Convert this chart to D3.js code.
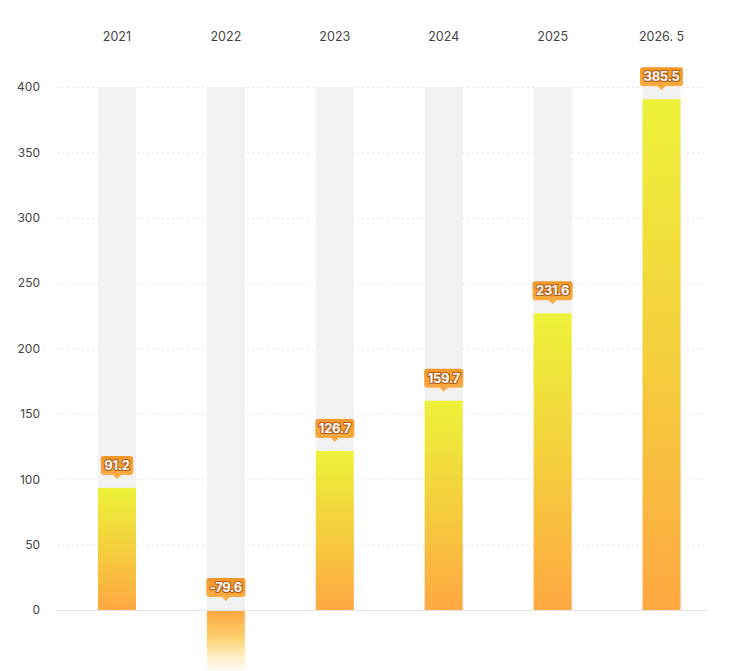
<!DOCTYPE html>
<html>
<head>
<meta charset="utf-8">
<script src="https://cdn.jsdelivr.net/npm/d3@7/dist/d3.min.js"></script>
<style>
  html, body { margin: 0; padding: 0; background: #fff; }
  svg { display: block; font-family: Inter, "Noto Sans", sans-serif; }
</style>
</head>
<body>
<svg id="chart"></svg>
<script>
// categories shown along the top
const years = ['2021', '2022', '2023', '2024', '2025', '2026. 5'];
// bar heights as drawn
const barValues = [93.4, -79.6, 121.6, 160.1, 226.9, 390.6];
// text in the orange tags
const tagLabels = ['91.2', '-79.6', '126.7', '159.7', '231.6', '385.5'];
// y ticks
const yTicks = [0, 50, 100, 150, 200, 250, 300, 350, 400];

const width = 739;
const height = 671;

const svg = d3.select('#chart')
  .attr('width', width)
  .attr('height', height);

const defs = svg.append('defs');

const posGrad = defs.append('linearGradient')
  .attr('id', 'pos-grad')
  .attr('x1', 0).attr('y1', 0).attr('x2', 0).attr('y2', 1);
posGrad.append('stop').attr('offset', '0%').attr('stop-color', '#eef23a');
posGrad.append('stop').attr('offset', '50%').attr('stop-color', '#f4cf3d');
posGrad.append('stop').attr('offset', '100%').attr('stop-color', '#ffa842');

const negGrad = defs.append('linearGradient')
  .attr('id', 'neg-grad')
  .attr('x1', 0).attr('y1', 0).attr('x2', 0).attr('y2', 1);
negGrad.append('stop').attr('offset', '0%').attr('stop-color', '#ffa940');
negGrad.append('stop').attr('offset', '25%').attr('stop-color', '#fdcf6c');
negGrad.append('stop').attr('offset', '45%').attr('stop-color', '#fff0c8');
negGrad.append('stop').attr('offset', '60%').attr('stop-color', '#ffffff');

const tagGrad = defs.append('linearGradient')
  .attr('id', 'tag-grad')
  .attr('x1', 0).attr('y1', 0).attr('x2', 0).attr('y2', 1);
tagGrad.append('stop').attr('offset', '0%').attr('stop-color', '#f29628');
tagGrad.append('stop').attr('offset', '100%').attr('stop-color', '#fbb049');

const gridLeft = 57;
const gridRight = 707;

const xScale = d3.scaleBand()
  .domain(years)
  .range([62.5, 716]);

const barW = 38;
const xCenter = d => xScale(d) + xScale.bandwidth() / 2;

const yScale = d3.scaleLinear()
  .domain([0, 400])
  .range([610, 87]);

// grid lines
const gridG = svg.append('g').classed('grid', true);
gridG.selectAll('line')
  .data(yTicks)
  .join('line')
    .attr('x1', gridLeft)
    .attr('x2', gridRight)
    .attr('y1', d => yScale(d) + 0.5)
    .attr('y2', d => yScale(d) + 0.5)
    .attr('stroke', d => d === 0 ? '#e4e4e4' : '#e6e6e6')
    .attr('stroke-dasharray', d => d === 0 ? null : '2,3');

// y axis labels
const yAxis = d3.axisLeft(yScale)
  .tickValues(yTicks)
  .tickSize(0)
  .tickPadding(0);

svg.append('g')
  .attr('transform', 'translate(40, 0)')
  .call(yAxis)
  .call(g => g.select('.domain').remove())
  .selectAll('text')
    .attr('fill', '#444')
    .attr('font-size', 12)
    .style('font-family', 'Inter, "Noto Sans", sans-serif');

// top axis labels
const xAxis = d3.axisTop(xScale)
  .tickSize(0)
  .tickPadding(0);

svg.append('g')
  .attr('transform', 'translate(0, 41)')
  .call(xAxis)
  .call(g => g.select('.domain').remove())
  .selectAll('text')
    .attr('fill', '#444')
    .attr('font-size', 12.5)
    .style('font-family', 'Inter, "Noto Sans", sans-serif');

const rows = years.map((y, i) => ({year: y, value: barValues[i], label: tagLabels[i]}));

// grey background columns
svg.append('g').classed('bg', true)
  .selectAll('rect')
  .data(rows)
  .join('rect')
    .attr('x', d => xCenter(d.year) - barW / 2)
    .attr('width', barW)
    .attr('y', yScale(400))
    .attr('height', yScale(0) - yScale(400))
    .attr('fill', '#f2f2f2');

// bars
svg.append('g').classed('bars', true)
  .selectAll('rect')
  .data(rows)
  .join('rect')
    .attr('x', d => xCenter(d.year) - barW / 2)
    .attr('width', barW)
    .attr('y', d => d.value >= 0 ? yScale(d.value) : yScale(0) + 1)
    .attr('height', d => Math.abs(yScale(d.value) - yScale(0)))
    .attr('fill', d => d.value >= 0 ? 'url(#pos-grad)' : 'url(#neg-grad)');

// tags
const tagG = svg.append('g').classed('tags', true)
  .selectAll('g')
  .data(rows)
  .join('g')
    .attr('transform', d => {
      const top = d.value >= 0 ? yScale(d.value) : yScale(0);
      return `translate(${xCenter(d.year)}, ${top - 9})`;
    });

tagG.append('text')
  .attr('text-anchor', 'middle')
  .attr('y', -9)
  .attr('font-size', 13)
  .attr('font-weight', 'bold')
  .attr('letter-spacing', -0.3)
  .attr('fill', '#fff')
  .attr('stroke', '#b85c14')
  .attr('stroke-width', 2.2)
  .attr('stroke-linejoin', 'round')
  .attr('paint-order', 'stroke')
  .text(d => d.label);

tagG.each(function() {
  const g = d3.select(this);
  const tw = g.select('text').node().getComputedTextLength();
  const w = tw + 7;
  const h = 19;
  g.insert('path', 'text')
    .attr('d', `M${-w / 2 + 3},${-4 - h} h${w - 6} q3,0 3,3 v${h - 6} q0,3 -3,3 h${-(w / 2 - 7)} l-4,4 l-4,-4 h${-(w / 2 - 7)} q-3,0 -3,-3 v${-(h - 6)} q0,-3 3,-3 z`)
    .attr('fill', 'url(#tag-grad)');
});
</script>
</body>
</html>
